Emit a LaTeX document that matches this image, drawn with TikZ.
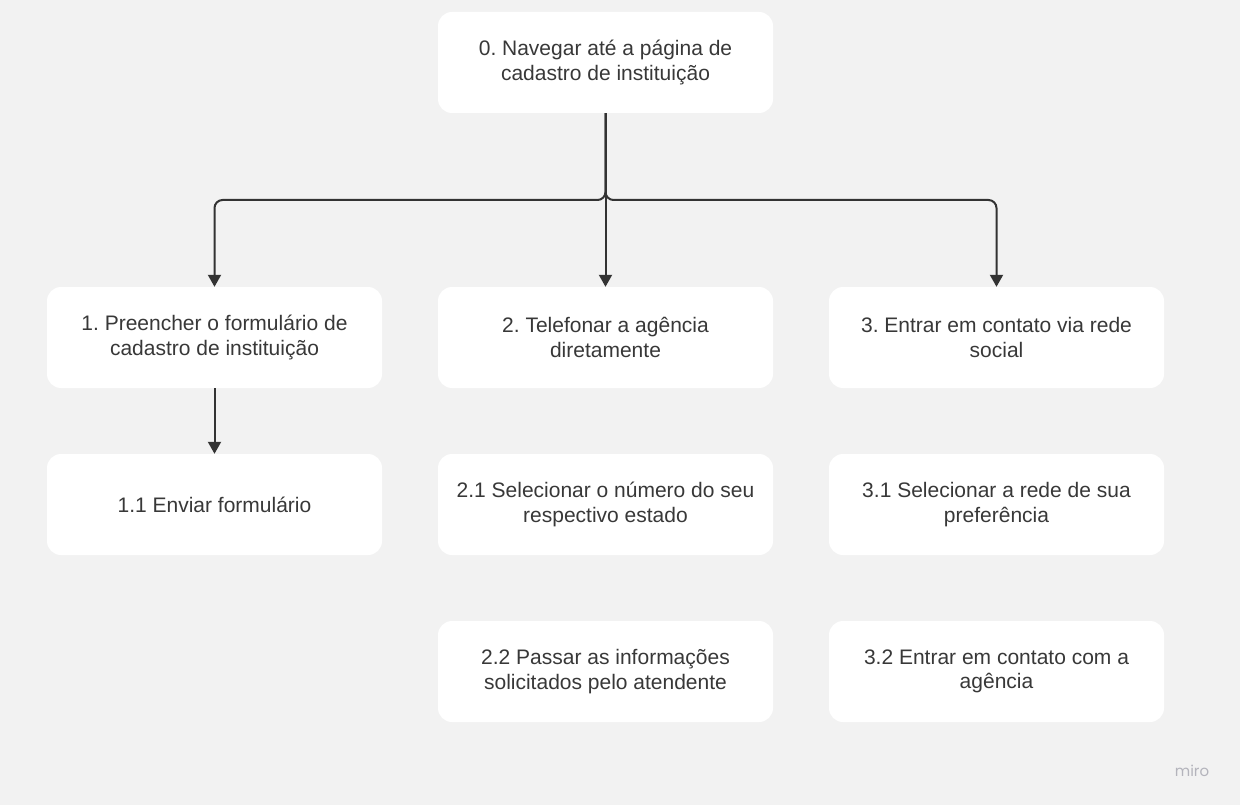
\documentclass[tikz,border=0pt]{standalone}
\usepackage{fontspec}
\setmainfont{Liberation Sans}
\newfontfamily\logofont{Poppins}
\usetikzlibrary{arrows.meta}
\definecolor{bg}{HTML}{F2F2F2}
\definecolor{ln}{HTML}{333333}
\definecolor{tx}{HTML}{383838}
\definecolor{logo}{HTML}{B4B4BC}
\frenchspacing
\tikzset{
  box/.style={draw=none, fill=white, rounded corners=14pt, minimum width=335pt, minimum height=101pt, align=center, text=tx, font=\fontsize{21pt}{24.5pt}\selectfont, inner sep=0pt},
  conn/.style={draw=ln, line width=2pt, -{Triangle[width=13pt,length=12pt]}, rounded corners=8pt},
}
\begin{document}
\begin{tikzpicture}[x=1pt,y=-1pt]
\fill[bg] (0,0) rectangle (1240,805);
\useasboundingbox (0,0) rectangle (1240,805);
\node[box] (n0) at (605.5,62.5) {0. Navegar até a página de\\cadastro de instituição};
\node[box] (n1) at (214.5,337.5) {1. Preencher o formulário de\\cadastro de instituição};
\node[box] (n2) at (605.5,337.5) {2. Telefonar a agência\\diretamente};
\node[box] (n3) at (996.5,337.5) {3. Entrar em contato via rede\\social};
\node[box] (n11) at (214.5,504.5) {1.1 Enviar formulário};
\node[box] (n21) at (605.5,504.5) {2.1 Selecionar o número do seu\\respectivo estado};
\node[box] (n31) at (996.5,504.5) {3.1 Selecionar a rede de sua\\preferência};
\node[box] (n22) at (605.5,671.5) {2.2 Passar as informações\\solicitados pelo atendente};
\node[box] (n32) at (996.5,671.5) {3.2 Entrar em contato com a\\agência};
\coordinate (j) at (605.5,200);
\draw[conn] (n0.south) -- (j) -| (n1.north);
\draw[conn] (n0.south) -- (n2.north);
\draw[conn] (n0.south) -- (j) -| (n3.north);
\draw[conn] (n1.south) -- (n11.north);
\node[text=logo, font=\logofont\fontsize{15pt}{18pt}\selectfont, anchor=center] (logo) at (1192,771) {miro};
\end{tikzpicture}
\end{document}
